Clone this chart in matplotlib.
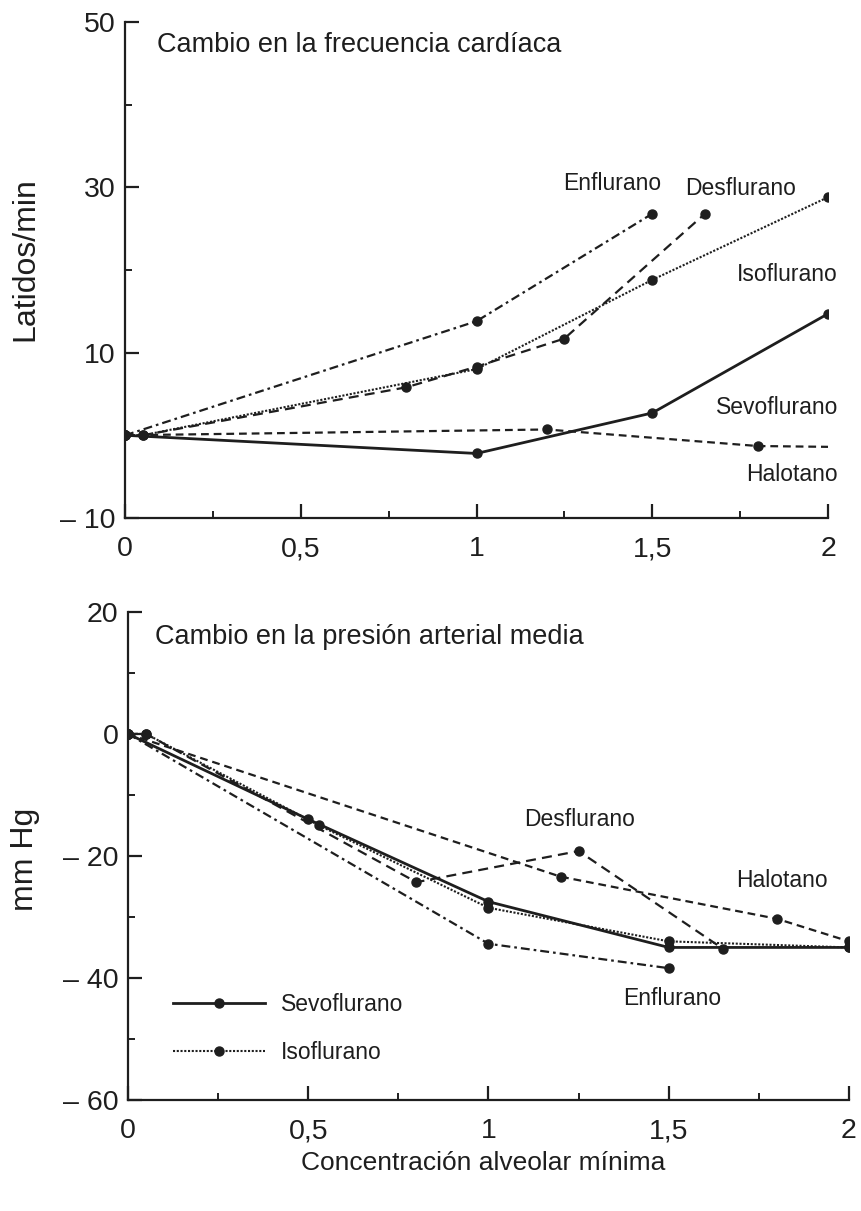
import numpy as np
import matplotlib
matplotlib.use('Agg')
import matplotlib.pyplot as plt
from matplotlib.lines import Line2D

plt.rcParams['font.family'] = ['Liberation Sans', 'DejaVu Sans']

ink = '#1e1e1e'

# --- frecuencia cardiaca (latidos/min) ---
hr_sevo_x = [0, 1.0, 1.5, 2.0]
hr_sevo_y = [0, -2.2, 2.7, 14.7]
hr_iso_x = [0, 0.05, 1.0, 1.5, 2.0]
hr_iso_y = [0, 0, 8.0, 18.8, 28.8]
hr_des_x = [0, 0.05, 0.8, 1.0, 1.25, 1.65]
hr_des_y = [0, 0, 5.8, 8.3, 11.7, 26.8]
hr_enf_x = [0, 1.0, 1.5]
hr_enf_y = [0, 13.8, 26.8]
hr_hal_x = [0, 1.2, 1.8, 2.0]
hr_hal_y = [0, 0.7, -1.3, -1.4]

# --- presion arterial media (mm Hg) ---
map_sevo_x = [0, 0.5, 1.0, 1.5, 2.0]
map_sevo_y = [0, -14.0, -27.5, -35.0, -35.0]
map_iso_x = [0, 0.05, 0.53, 1.0, 1.5, 2.0]
map_iso_y = [0, 0, -15.0, -28.5, -34.0, -35.0]
map_des_x = [0, 0.05, 0.8, 1.25, 1.65]
map_des_y = [0, 0, -24.3, -19.2, -35.2]
map_enf_x = [0, 1.0, 1.5]
map_enf_y = [0, -34.4, -38.4]
map_hal_x = [0, 1.2, 1.8, 2.0]
map_hal_y = [0, -23.4, -30.3, -34.0]

x_ticks = [0, 0.5, 1, 1.5, 2]
x_ticklabels = ['0', '0,5', '1', '1,5', '2']

styles = {
    'sevo': dict(ls='-', lw=2.0),
    'iso': dict(ls=(0, (1.0, 0.8)), lw=1.5),
    'des': dict(ls=(0, (4.5, 2.8)), lw=1.6),
    'hal': dict(ls=(0, (3.5, 2.2)), lw=1.6),
    'enf': dict(ls=(0, (4.0, 1.8, 1.2, 1.8)), lw=1.6),
}


def draw(ax, x, y, key, markevery=None):
    st = styles[key]
    ax.plot(x, y, color=ink, linestyle=st['ls'], lw=st['lw'], marker='o',
            ms=6.5, markevery=markevery, dash_capstyle='butt')


def style_axes(ax, ylim, major, minor, ylabels):
    ax.set_xlim(0, 2)
    ax.set_ylim(*ylim)
    for s in ['top', 'right']:
        ax.spines[s].set_visible(False)
    for s in ['left', 'bottom']:
        ax.spines[s].set_linewidth(1.6)
        ax.spines[s].set_color(ink)
    ax.set_xticks(x_ticks)
    ax.set_xticklabels(x_ticklabels)
    ax.set_xticks([0.25, 0.75, 1.25, 1.75], minor=True)
    ax.set_yticks(major)
    ax.set_yticklabels(ylabels)
    ax.set_yticks(minor, minor=True)
    ax.tick_params(which='major', direction='in', length=10, width=1.6,
                   labelsize=20.5, color=ink, labelcolor=ink)
    ax.tick_params(which='minor', direction='in', length=5, width=1.4, color=ink)
    ax.tick_params(axis='y', pad=7)
    ax.tick_params(axis='x', pad=13)
    ax.patch.set_alpha(0)


fig = plt.figure(figsize=(8.61, 12.11), dpi=100)
ax1 = fig.add_axes([0.1452, 0.5723, 0.8165, 0.4096])
ax2 = fig.add_axes([0.1487, 0.0917, 0.8373, 0.4030])

# top panel
draw(ax1, hr_hal_x, hr_hal_y, 'hal', markevery=[0, 1, 2])
draw(ax1, hr_enf_x, hr_enf_y, 'enf')
draw(ax1, hr_des_x, hr_des_y, 'des')
draw(ax1, hr_iso_x, hr_iso_y, 'iso')
draw(ax1, hr_sevo_x, hr_sevo_y, 'sevo')
style_axes(ax1, (-10, 50), [-10, 10, 30, 50], [0, 20, 40],
           ['\u2013 10', '10', '30', '50'])

ax1.text(0.091, 47.2, 'Cambio en la frecuencia cardíaca', fontsize=19.5,
         va='center', ha='left', color=ink)
lab = dict(fontsize=16.5, color=ink, va='center')
ax1.text(1.387, 30.5, 'Enflurano', ha='center', **lab)
ax1.text(1.752, 29.8, 'Desflurano', ha='center', **lab)
ax1.text(2.028, 19.5, 'Isoflurano', ha='right', **lab)
ax1.text(2.028, 3.3, 'Sevoflurano', ha='right', **lab)
ax1.text(2.028, -4.8, 'Halotano', ha='right', **lab)

# bottom panel
draw(ax2, map_hal_x, map_hal_y, 'hal')
draw(ax2, map_enf_x, map_enf_y, 'enf')
draw(ax2, map_des_x, map_des_y, 'des')
draw(ax2, map_iso_x, map_iso_y, 'iso')
draw(ax2, map_sevo_x, map_sevo_y, 'sevo')
style_axes(ax2, (-60, 20), [-60, -40, -20, 0, 20], [-50, -30, -10, 10],
           ['\u2013 60', '\u2013 40', '\u2013 20', '0', '20'])

ax2.text(0.076, 15.9, 'Cambio en la presión arterial media', fontsize=19.5,
         va='center', ha='left', color=ink)
ax2.text(1.254, -14.1, 'Desflurano', ha='center', **lab)
ax2.text(1.814, -24.0, 'Halotano', ha='center', **lab)
ax2.text(1.51, -43.3, 'Enflurano', ha='center', **lab)

handles = [
    Line2D([], [], color=ink, ls='-', lw=2.0, marker='o', ms=6.5),
    Line2D([], [], color=ink, ls=(0, (1.0, 0.8)), lw=1.5, marker='o', ms=6.5),
]
ax2.legend(handles, ['Sevoflurano', 'Isoflurano'], loc='upper left',
           bbox_to_anchor=(0.034, 0.262), frameon=False, fontsize=16.5,
           handlelength=4.0, handletextpad=0.7, labelspacing=1.1,
           numpoints=1, labelcolor=ink)

fig.text(0.029, 0.786, 'Latidos/min', rotation=90, fontsize=23,
         ha='center', va='center', color=ink)
fig.text(0.029, 0.290, 'mm Hg', rotation=90, fontsize=23,
         ha='center', va='center', color=ink)
fig.text(0.561, 0.0396, 'Concentración alveolar mínima', fontsize=19,
         ha='center', va='center', color=ink)

fig.savefig('out.png', dpi=100)
